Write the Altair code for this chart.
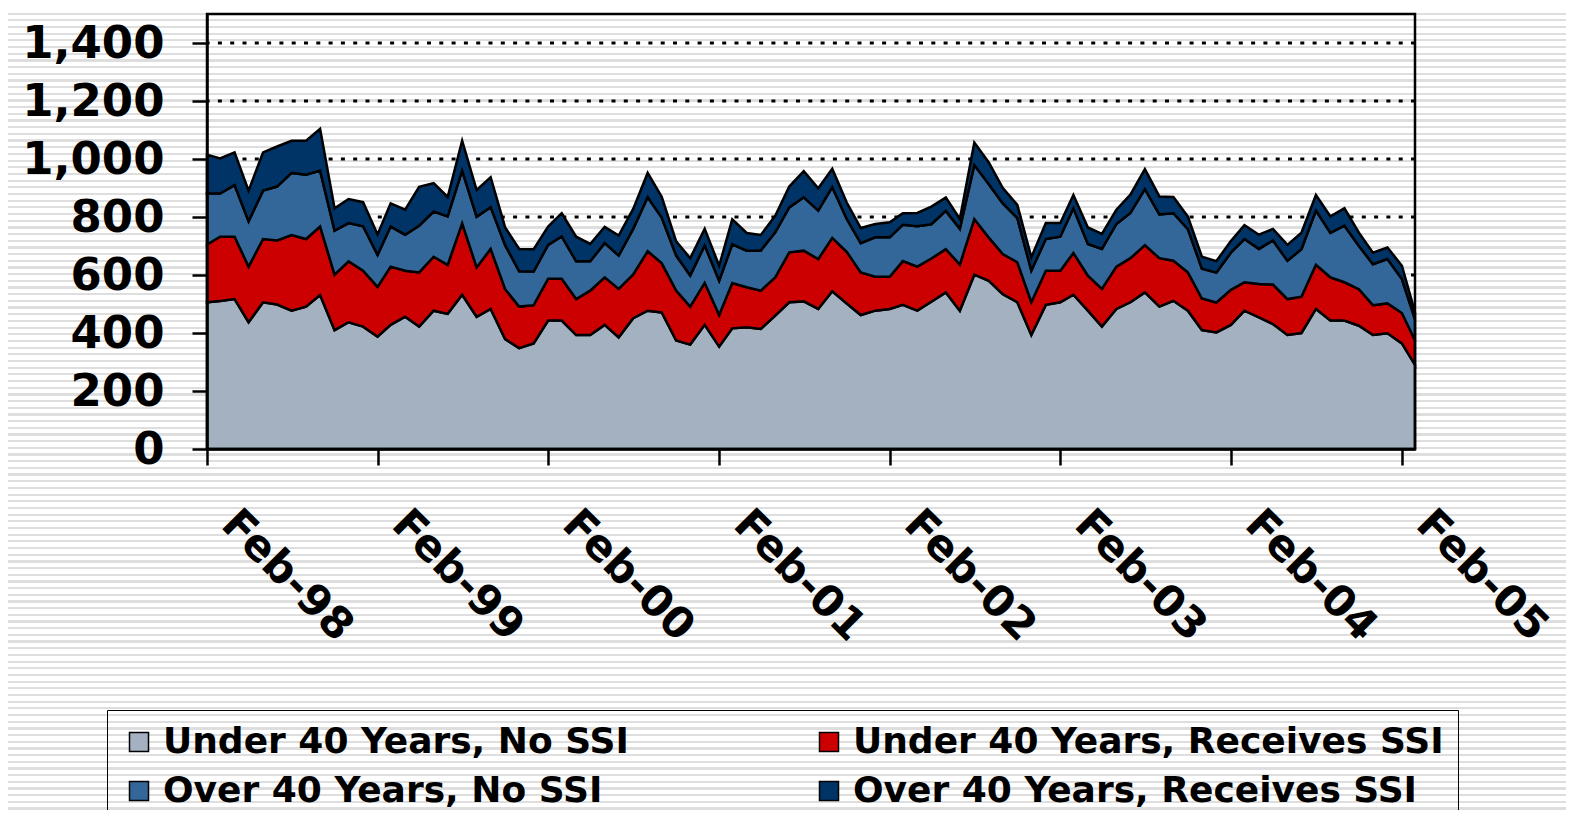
import altair as alt
import pandas as pd

# ---------------- data ----------------
months = pd.date_range("1998-02-01", periods=86, freq="MS").strftime("%Y-%m-%d").tolist()

series_names = [
    "Under 40 Years, No SSI",
    "Under 40 Years, Receives SSI",
    "Over 40 Years, No SSI",
    "Over 40 Years, Receives SSI",
]

under40_no_ssi = [506, 510, 517, 437, 506, 498, 477, 491, 531, 410, 437, 422, 387, 428, 456, 422,
                  477, 466, 532, 456, 483, 379, 348, 364, 443, 443, 393, 393, 428, 385, 451, 477,
                  471, 374, 360, 428, 353, 416, 420, 414, 460, 506, 509, 483, 544, 502, 462, 477,
                  483, 497, 477, 508, 540, 477, 601, 580, 534, 506, 393, 497, 506, 532, 477, 422,
                  483, 506, 540, 491, 511, 477, 410, 402, 428, 477, 454, 431, 393, 400, 483, 443,
                  443, 425, 393, 399, 364, 290]
under40_ssi = [199, 222, 215, 192, 218, 221, 261, 233, 236, 191, 210, 193, 172, 201, 159, 187,
               186, 169, 246, 170, 207, 172, 143, 132, 144, 144, 124, 153, 164, 167, 151, 205,
               170, 172, 131, 145, 109, 156, 138, 132, 132, 172, 175, 172, 184, 178, 147, 117,
               111, 151, 152, 149, 149, 159, 192, 149, 138, 138, 113, 118, 109, 144, 121, 130,
               146, 152, 163, 167, 138, 132, 109, 103, 121, 98, 115, 136, 124, 125, 152, 149,
               132, 126, 103, 103, 105, 85]
over40_no_ssi = [177, 149, 178, 156, 167, 186, 214, 222, 193, 152, 132, 153, 110, 138, 124, 161,
                 156, 167, 182, 175, 144, 152, 122, 116, 117, 146, 130, 101, 118, 115, 157, 186,
                 157, 121, 107, 129, 118, 134, 126, 138, 155, 155, 184, 167, 175, 113, 101, 136,
                 136, 125, 139, 118, 132, 123, 186, 184, 175, 152, 109, 109, 117, 154, 109, 138,
                 147, 156, 193, 151, 164, 149, 103, 103, 128, 149, 121, 152, 132, 164, 187, 153,
                 195, 149, 141, 153, 117, 72]
over40_ssi = [133, 121, 113, 106, 132, 138, 111, 117, 144, 77, 83, 83, 71, 80, 86, 134,
              98, 67, 103, 92, 103, 61, 77, 77, 63, 80, 85, 60, 56, 69, 69, 84,
              72, 49, 60, 57, 52, 86, 61, 54, 57, 72, 90, 77, 63, 57, 52, 46,
              52, 40, 46, 61, 46, 34, 78, 75, 53, 46, 46, 55, 47, 46, 57, 52,
              49, 63, 69, 62, 56, 43, 41, 40, 40, 48, 49, 40, 55, 57, 54, 57,
              60, 46, 40, 40, 46, 25]

y_ticks = [0, 200, 400, 600, 800, 1000, 1200, 1400]
x_tick_years = [1998, 1999, 2000, 2001, 2002, 2003, 2004, 2005]

colors = ["#A3B1C1", "#CC0000", "#336699", "#003366"]

rows = []
for k, (name, vals) in enumerate(zip(series_names,
                                     [under40_no_ssi, under40_ssi, over40_no_ssi, over40_ssi])):
    for d, v in zip(months, vals):
        rows.append({"date": d, "series": name, "value": v, "k": k})
df = pd.DataFrame(rows)

# ---------------- layout ----------------
W, H = 1208, 435
PAD = {"left": 199, "top": 6, "right": 151, "bottom": 361}
FONT = "DejaVu Sans"

# striped background (decoration) as a gradient
period, thick = 6.68, 2.2
total_h = H + PAD["top"] + PAD["bottom"]
stops = []
ypage = 5.9
while ypage < 8 + total_h:
    s = (ypage - 8) / total_h
    e = (ypage + thick - 8) / total_h
    if e > 0 and s < 1:
        s = max(s, 0.0)
        e = min(e, 1.0)
        stops += [alt.GradientStop(color="#ffffff", offset=s),
                  alt.GradientStop(color="#dedede", offset=s),
                  alt.GradientStop(color="#dedede", offset=e),
                  alt.GradientStop(color="#ffffff", offset=e)]
    ypage += period
gradient = alt.LinearGradient(gradient="linear", stops=stops, x1=0, x2=0, y1=0, y2=1)

stripes = alt.Chart(pd.DataFrame({"a": [0]})).mark_rect(fill=gradient, strokeWidth=0).encode(
    x=alt.value(-PAD["left"]), x2=alt.value(W + PAD["right"]),
    y=alt.value(-PAD["top"]), y2=alt.value(H + PAD["bottom"]),
)

y_scale = alt.Scale(domain=[0, 1500], nice=False)
y_axis = alt.Axis(values=y_ticks, format=",.0f", title=None, labelFont=FONT,
                  labelFontWeight="bold", labelFontSize=45, labelColor="black",
                  labelPadding=28, tickSize=15, tickColor="black", tickWidth=2.5,
                  domainColor="black", domainWidth=2.5, grid=False, zindex=1,
                  labelLimit=400)

grid = alt.Chart(pd.DataFrame({"value": y_ticks[1:]})).mark_rule(
    color="black", strokeWidth=3, strokeDash=[4, 8.3]
).encode(y=alt.Y("value:Q", axis=y_axis, scale=y_scale))

x_domain = [alt.DateTime(year=1998, month=2, date=1, utc=True),
            alt.DateTime(year=2005, month=3, date=1, utc=True)]
x_values = [alt.DateTime(year=y, month=2, date=1, utc=True) for y in x_tick_years]

area = alt.Chart(df).mark_area(
    stroke="black", strokeWidth=2.5, interpolate="linear", opacity=1
).encode(
    x=alt.X("date:T",
            scale=alt.Scale(type="utc", domain=x_domain),
            axis=alt.Axis(values=x_values, format="%b-%y", title=None,
                          labelAngle=45, labelAlign="left", labelBaseline="top",
                          labelOffset=36, labelPadding=37, labelFont=FONT,
                          labelFontWeight="bold", labelFontSize=43, labelColor="black",
                          labelLimit=500,
                          labelFlush=False, labelOverlap=False, labelBound=False,
                          tickSize=16, tickColor="black", tickWidth=2.5,
                          domainColor="black", domainWidth=2.5, grid=False, zindex=1)),
    y=alt.Y("value:Q", stack="zero", scale=y_scale, axis=y_axis),
    color=alt.Color("series:N",
                    scale=alt.Scale(domain=series_names, range=colors),
                    legend=alt.Legend(title=None, orient="none", legendX=-100, legendY=696,
                                      direction="horizontal",
                                      columns=2, symbolType="square", symbolSize=361,
                                      symbolStrokeColor="black", symbolStrokeWidth=1.5,
                                      symbolOpacity=1, labelFont=FONT, labelFontWeight="bold",
                                      labelFontSize=36, labelColor="black", labelLimit=2000,
                                      labelOffset=6, columnPadding=182, rowPadding=13,
                                      padding=14, strokeColor="black", gridAlign="each")),
    order=alt.Order("k:Q", sort="ascending"),
)

border = alt.Chart(pd.DataFrame({"a": [0]})).mark_rect(
    fill="transparent", stroke="black", strokeWidth=2.5
).encode(x=alt.value(0), x2=alt.value(W), y=alt.value(0), y2=alt.value(H))

chart = alt.layer(stripes, grid, area, border).properties(
    width=W, height=H, padding=PAD,
    autosize=alt.AutoSizeParams(type="none"),
    background="white",
).configure_view(stroke="transparent")

chart.save("out.html", embed_options={"renderer": "svg", "actions": False})
